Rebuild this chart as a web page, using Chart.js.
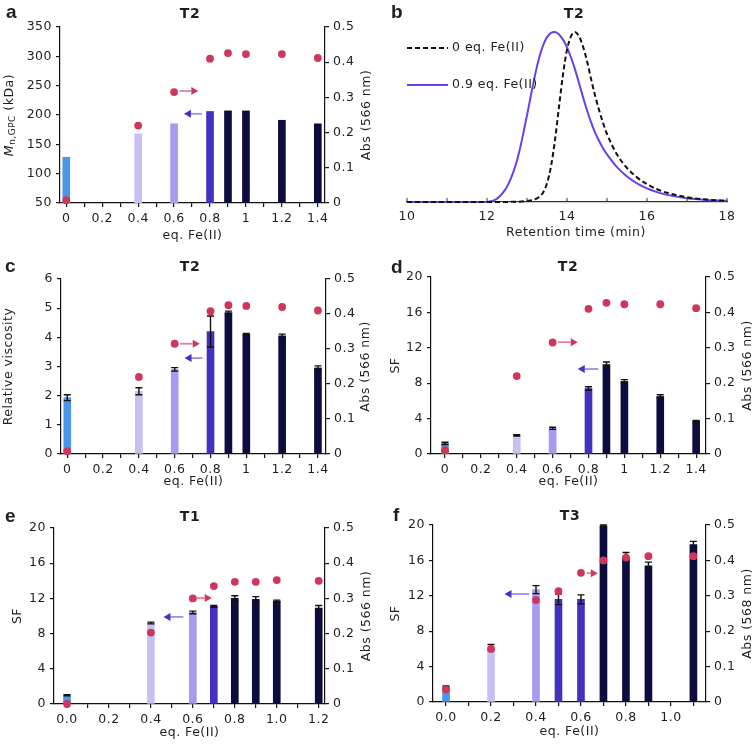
<!DOCTYPE html>
<html><head><meta charset="utf-8">
<script src="https://cdn.jsdelivr.net/npm/chart.js@4.4.1/dist/chart.umd.min.js"></script>
<style>
html,body{margin:0;padding:0;background:#fff;}
#wrap{position:relative;width:756px;height:746px;overflow:hidden;}
canvas{position:absolute;}
</style></head><body>
<div id="wrap">
<canvas id="ca" width="378" height="248" style="left:0;top:0"></canvas>
<canvas id="cb" width="378" height="248" style="left:378px;top:0"></canvas>
<canvas id="cc" width="378" height="249" style="left:0;top:248px"></canvas>
<canvas id="cd" width="378" height="249" style="left:378px;top:248px"></canvas>
<canvas id="ce" width="378" height="249" style="left:0;top:497px"></canvas>
<canvas id="cf" width="378" height="249" style="left:378px;top:497px"></canvas>
</div>
<script>
// ---------- data ----------
const eqT2 = [0, 0.4, 0.6, 0.8, 0.9, 1.0, 1.2, 1.4];
const mnGPC = [128, 168, 185, 206, 207, 207, 191, 185];
const absT2a = [0.008, 0.22, 0.315, 0.41, 0.426, 0.423, 0.423, 0.412];

const viscT2 = [1.93, 2.15, 2.9, 4.2, 4.85, 4.1, 4.05, 2.95];
const viscT2Err = [0.1, 0.12, 0.06, 0.53, 0.05, 0.03, 0.06, 0.07];
const absT2c = [0.008, 0.22, 0.315, 0.408, 0.425, 0.423, 0.42, 0.41];

const sfT2 = [1.2, 2.1, 2.9, 7.4, 10.1, 8.2, 6.5, 3.7];
const sfT2Err = [0.12, 0.08, 0.12, 0.2, 0.3, 0.2, 0.2, 0.08];
const absT2d = [0.01, 0.22, 0.315, 0.41, 0.427, 0.423, 0.423, 0.412];

const eqT1 = [0, 0.4, 0.6, 0.7, 0.8, 0.9, 1.0, 1.2];
const sfT1 = [1.0, 9.2, 10.4, 11.1, 12.0, 11.9, 11.7, 10.9];
const sfT1Err = [0.06, 0.1, 0.15, 0.1, 0.3, 0.3, 0.1, 0.3];
const absT1 = [0.0, 0.203, 0.30, 0.335, 0.347, 0.347, 0.352, 0.35];

const eqT3 = [0, 0.2, 0.4, 0.5, 0.6, 0.7, 0.8, 0.9, 1.1];
const sfT3 = [1.7, 6.2, 12.7, 11.6, 11.6, 19.9, 16.4, 15.4, 17.8];
const sfT3Err = [0.1, 0.3, 0.45, 0.6, 0.5, 0.1, 0.5, 0.4, 0.35];
const absT3 = [0.035, 0.15, 0.288, 0.313, 0.365, 0.40, 0.408, 0.412, 0.412];

// GPC traces (normalised signal)
const rt0  = [10, 12, 12.8, 13.0, 13.2, 13.3, 13.4, 13.5, 13.6, 13.7, 13.8, 13.9, 14.0, 14.1, 14.2, 14.3, 14.4, 14.5, 14.6, 14.7, 14.8, 14.9, 15.0, 15.25, 15.5, 15.75, 16.0, 16.25, 16.5, 17.0, 17.5, 18.0];
const sig0 = [0, 0, 0.002, 0.006, 0.016, 0.03, 0.055, 0.11, 0.21, 0.365, 0.56, 0.75, 0.895, 0.975, 1.0, 0.975, 0.915, 0.83, 0.725, 0.628, 0.542, 0.466, 0.4, 0.28, 0.2, 0.145, 0.105, 0.075, 0.054, 0.028, 0.014, 0.007];
const rt09  = [10, 12.0, 12.1, 12.2, 12.3, 12.4, 12.5, 12.6, 12.7, 12.8, 12.9, 13.0, 13.1, 13.2, 13.3, 13.4, 13.5, 13.6, 13.7, 13.8, 13.9, 14.0, 14.1, 14.2, 14.3, 14.4, 14.5, 14.6, 14.7, 14.8, 14.9, 15.0, 15.25, 15.5, 15.75, 16.0, 16.25, 16.5, 17.0, 17.5, 18.0];
const sig09 = [0, 0, 0.004, 0.013, 0.03, 0.055, 0.09, 0.14, 0.205, 0.29, 0.395, 0.51, 0.63, 0.745, 0.845, 0.92, 0.97, 0.995, 1.0, 0.985, 0.955, 0.91, 0.85, 0.78, 0.7, 0.617, 0.54, 0.47, 0.41, 0.36, 0.316, 0.28, 0.205, 0.15, 0.11, 0.08, 0.058, 0.042, 0.022, 0.012, 0.007];

// tick labels
const tickLabelsT2 = ['0', '0.2', '0.4', '0.6', '0.8', '1', '1.2', '1.4'];
const tickLabelsT1 = ['0.0', '0.2', '0.4', '0.6', '0.8', '1.0', '1.2'];
const tickLabelsT3 = ['0.0', '0.2', '0.4', '0.6', '0.8', '1.0'];
const absTickLabels = ['0', '0.1', '0.2', '0.3', '0.4', '0.5'];
const rtTickLabels = ['10', '12', '14', '16', '18'];

// ---------- style ----------
const FONT = '"DejaVu Sans", sans-serif';
const TXT = '#1e1e1e';
const COL = {blue:'#4a96ea', lightLav:'#c8c0f3', lav:'#a79af0', mid:'#4332c2', navy:'#0d0c3e',
  red:'#d0365c', redLine:'#e0829f', blueHead:'#4332c2', blueLine:'#9a90ee', purple:'#6a40e8'};

const specs = {};

function rotText(ctx, parts, x, y) {
  ctx.save();
  ctx.translate(x, y);
  ctx.rotate(-Math.PI / 2);
  ctx.textBaseline = 'middle';
  ctx.textAlign = 'left';
  let total = 0;
  parts.forEach(p => { ctx.font = p.font; p.w = ctx.measureText(p.t).width; total += p.w; });
  let cx = -total / 2;
  parts.forEach(p => { ctx.font = p.font; ctx.fillText(p.t, cx, p.dy || 0); cx += p.w; });
  ctx.restore();
}

function drawArrow(ctx, x1, x2, y, lineColor, headColor) {
  const dir = Math.sign(x2 - x1), hl = 7, hw = 4;
  ctx.strokeStyle = lineColor; ctx.lineWidth = 1.8;
  ctx.beginPath(); ctx.moveTo(x1, y); ctx.lineTo(x2 - dir * hl, y); ctx.stroke();
  ctx.fillStyle = headColor;
  ctx.beginPath(); ctx.moveTo(x2, y); ctx.lineTo(x2 - dir * hl, y - hw); ctx.lineTo(x2 - dir * hl, y + hw); ctx.closePath(); ctx.fill();
}

const decorPlugin = {
  id: 'decor',
  beforeDraw(chart) { chart.ctx.letterSpacing = '0.5px'; },
  afterDatasetDraw(chart, args) {
    const s = specs[chart.canvas.id];
    if (!s || !s.errors || args.index !== 0) return;
    const meta = chart.getDatasetMeta(0), ys = chart.scales.y, ctx = chart.ctx;
    ctx.save();
    ctx.strokeStyle = '#111'; ctx.lineWidth = 1.4;
    meta.data.forEach((bar, i) => {
      const v = s.values[i], e = s.errors[i];
      const yt = ys.getPixelForValue(v + e), yb = ys.getPixelForValue(v - e), x = bar.x;
      ctx.beginPath();
      ctx.moveTo(x, yt); ctx.lineTo(x, yb);
      ctx.moveTo(x - 3.5, yt); ctx.lineTo(x + 3.5, yt);
      ctx.moveTo(x - 3.5, yb); ctx.lineTo(x + 3.5, yb);
      ctx.stroke();
    });
    ctx.restore();
  },
  afterDraw(chart) {
    const s = specs[chart.canvas.id];
    if (!s) return;
    const ctx = chart.ctx, ca = chart.chartArea;
    ctx.save();
    ctx.fillStyle = TXT;
    ctx.textBaseline = 'alphabetic';
    ctx.font = 'bold 19px "Liberation Sans", Arial, sans-serif';
    ctx.textAlign = 'left';
    ctx.fillText(s.letter, s.letterX, s.letterY);
    ctx.font = 'bold 14px ' + FONT;
    ctx.textAlign = 'center';
    ctx.fillText(s.title, s.titleX, s.titleY);
    ctx.font = '12.5px ' + FONT;
    ctx.fillText(s.xTitle, s.xTitleX != null ? s.xTitleX : (ca.left + ca.right) / 2, s.xTitleY);
    const cy = (ca.top + ca.bottom) / 2;
    if (s.yTitle) rotText(ctx, s.yTitle, s.yTitleX, cy);
    if (s.y2Title) rotText(ctx, [{t: s.y2Title, font: '12.5px ' + FONT}], s.y2TitleX, cy);
    // arrows
    (s.arrows || []).forEach(a => {
      const y = chart.scales[a.axis].getPixelForValue(a.y);
      const x1 = chart.scales.x.getPixelForValue(a.from), x2 = chart.scales.x.getPixelForValue(a.to);
      drawArrow(ctx, x1, x2, y, a.line, a.head);
    });
    // inward ticks (panel b)
    if (s.innerTicks) {
      ctx.strokeStyle = '#333'; ctx.lineWidth = 1;
      chart.scales.x.ticks.forEach(t => {
        const x = chart.scales.x.getPixelForValue(t.value);
        ctx.beginPath(); ctx.moveTo(x, ca.bottom); ctx.lineTo(x, ca.bottom - 4); ctx.stroke();
      });
    }
    // legend (panel b)
    (s.legend || []).forEach(l => {
      ctx.strokeStyle = l.color; ctx.lineWidth = 2; ctx.setLineDash(l.dash || []);
      ctx.beginPath(); ctx.moveTo(l.x1, l.y); ctx.lineTo(l.x2, l.y); ctx.stroke();
      ctx.setLineDash([]);
      ctx.fillStyle = TXT; ctx.font = '12.5px ' + FONT; ctx.textAlign = 'left'; ctx.textBaseline = 'middle';
      ctx.fillText(l.text, l.x2 + 4, l.y);
    });
    ctx.restore();
  }
};
Chart.register(decorPlugin);

const tickFont = {family: FONT, size: 12.5};

function xTickValues(max) {
  const v = [];
  for (let k = 0; k * 0.1 <= max + 1e-9; k++) v.push(+(k * 0.1).toFixed(2));
  return v;
}

function barChart(id, o) {
  specs[id] = o.decor;
  const H = document.getElementById(id).height;
  return new Chart(id, {
    type: 'bar',
    data: {
      datasets: [
        {type: 'bar', data: o.xs.map((x, i) => ({x, y: o.ys[i]})), backgroundColor: o.colors,
         barThickness: 7, yAxisID: 'y', order: 2},
        {type: 'scatter', data: o.xs.map((x, i) => ({x, y: o.abs[i]})), yAxisID: 'y2',
         backgroundColor: COL.red, borderWidth: 0, pointRadius: 3.9, clip: false, order: 1}
      ]
    },
    options: {
      responsive: false, animation: false,
      layout: {padding: {top: o.T, left: 0, right: 0, bottom: 0}},
      plugins: {legend: {display: false}, tooltip: {enabled: false}},
      scales: {
        x: {
          type: 'linear', min: o.xMin, max: o.xMax, offset: false,
          afterBuildTicks: s => { s.ticks = xTickValues(o.xMax).map(v => ({value: v})); },
          afterFit: s => { s.height = H - o.B; },
          ticks: {autoSkip: false, maxRotation: 0, padding: 4, color: TXT, font: tickFont,
            callback: v => { const k = Math.round(v / 0.2); return (Math.abs(v - k * 0.2) < 1e-6 && k < o.xLabels.length) ? o.xLabels[k] : ''; }},
          grid: {drawOnChartArea: false, drawTicks: true, tickLength: 4, color: '#111', lineWidth: 1.2, offset: false},
          border: {display: true, color: '#111', width: 1.2}
        },
        y: {
          position: 'left', min: o.yMin, max: o.yMax,
          afterFit: s => { s.width = o.L; },
          ticks: {stepSize: o.yStep, padding: 4, color: TXT, font: tickFont},
          grid: {drawOnChartArea: false, drawTicks: true, tickLength: 4, color: '#111', lineWidth: 1.2},
          border: {display: true, color: '#111', width: 1.2}
        },
        y2: {
          position: 'right', min: 0, max: 0.5,
          afterBuildTicks: s => { const t = []; for (let k = 0; k <= 10; k++) t.push({value: +(k * 0.05).toFixed(2)}); s.ticks = t; },
          afterFit: s => { s.width = 378 - o.R; },
          ticks: {padding: 4, color: TXT, font: tickFont,
            callback: v => { const k = Math.round(v / 0.1); return Math.abs(v - k * 0.1) < 1e-6 ? absTickLabels[k] : ''; }},
          grid: {drawOnChartArea: false, drawTicks: true, tickLength: 4, color: '#111', lineWidth: 1.2},
          border: {display: true, color: '#111', width: 1.2}
        }
      }
    }
  });
}

const T2colors = [COL.blue, COL.lightLav, COL.lav, COL.mid, COL.navy, COL.navy, COL.navy, COL.navy];
const T1colors = [COL.blue, COL.lightLav, COL.lav, COL.mid, COL.navy, COL.navy, COL.navy, COL.navy];
const T3colors = [COL.blue, COL.lightLav, COL.lav, COL.mid, COL.mid, COL.navy, COL.navy, COL.navy, COL.navy];
const absTitle = 'Abs (566 nm)';

// ----- panel a -----
barChart('ca', {
  xs: eqT2, ys: mnGPC, abs: absT2a, colors: T2colors, xLabels: tickLabelsT2,
  xMin: -0.035, xMax: 1.44, yMin: 50, yMax: 350, yStep: 50, L: 60, R: 325, T: 27, B: 203,
  decor: {letter: 'a', letterX: 6, letterY: 18, title: 'T2', titleX: 190, titleY: 18,
    xTitle: 'eq. Fe(II)', xTitleY: 239,
    yTitle: [{t: 'M', font: 'italic 12.5px ' + FONT}, {t: 'n,GPC', font: '9px ' + FONT, dy: 3}, {t: ' (kDa)', font: '12.5px ' + FONT}], yTitleX: 10,
    y2Title: absTitle, y2TitleX: 367,
    arrows: [
      {axis: 'y2', y: 0.318, from: 0.63, to: 0.735, line: COL.redLine, head: COL.red},
      {axis: 'y', y: 202, from: 0.755, to: 0.655, line: COL.blueLine, head: COL.blueHead}
    ]}
});

// ----- panel b -----
specs['cb'] = {letter: 'b', letterX: 13, letterY: 18, title: 'T2', titleX: 196, titleY: 18,
  xTitle: 'Retention time (min)', xTitleX: 198, xTitleY: 236, innerTicks: true,
  legend: [
    {text: '0 eq. Fe(II)', color: '#111', dash: [5, 3], x1: 29, x2: 70, y: 48},
    {text: '0.9 eq. Fe(II)', color: COL.purple, x1: 29, x2: 70, y: 85}
  ]};
new Chart('cb', {
  type: 'line',
  data: {datasets: [
    {data: rt0.map((x, i) => ({x, y: sig0[i]})), borderColor: '#111', borderDash: [5, 3], borderWidth: 2,
     pointRadius: 0, cubicInterpolationMode: 'monotone', clip: false},
    {data: rt09.map((x, i) => ({x, y: sig09[i]})), borderColor: COL.purple, borderWidth: 2,
     pointRadius: 0, cubicInterpolationMode: 'monotone', clip: false}
  ]},
  options: {
    responsive: false, animation: false,
    layout: {padding: {top: 32, left: 29, right: 29, bottom: 0}},
    plugins: {legend: {display: false}, tooltip: {enabled: false}},
    scales: {
      x: {type: 'linear', min: 10, max: 18,
        afterBuildTicks: s => { const t = []; for (let v = 10; v <= 18; v++) t.push({value: v}); s.ticks = t; },
        afterFit: s => { s.height = 248 - 202; },
        ticks: {autoSkip: false, maxRotation: 0, padding: 7, color: TXT, font: tickFont,
          callback: v => (v % 2 === 0 ? rtTickLabels[(v - 10) / 2] : '')},
        grid: {drawOnChartArea: false, drawTicks: false},
        border: {display: true, color: '#333', width: 1.2}},
      y: {display: false, min: 0, max: 1}
    }
  }
});

// ----- panel c -----
barChart('cc', {
  xs: eqT2, ys: viscT2, abs: absT2c, colors: T2colors, xLabels: tickLabelsT2,
  xMin: -0.035, xMax: 1.445, yMin: 0, yMax: 6, yStep: 1, L: 61, R: 326, T: 31, B: 206,
  decor: {letter: 'c', letterX: 5, letterY: 24, title: 'T2', titleX: 190, titleY: 23,
    xTitle: 'eq. Fe(II)', xTitleY: 237, values: viscT2, errors: viscT2Err,
    yTitle: [{t: 'Relative viscosity', font: '12.5px ' + FONT}], yTitleX: 9,
    y2Title: absTitle, y2TitleX: 366,
    arrows: [
      {axis: 'y2', y: 0.315, from: 0.63, to: 0.74, line: COL.redLine, head: COL.red},
      {axis: 'y2', y: 0.274, from: 0.755, to: 0.655, line: COL.blueLine, head: COL.blueHead}
    ]}
});

// ----- panel d -----
barChart('cd', {
  xs: eqT2, ys: sfT2, abs: absT2d, colors: T2colors, xLabels: tickLabelsT2,
  xMin: -0.078, xMax: 1.455, yMin: 0, yMax: 20, yStep: 4, L: 53, R: 328, T: 29, B: 206,
  decor: {letter: 'd', letterX: 13, letterY: 25, title: 'T2', titleX: 190, titleY: 23,
    xTitle: 'eq. Fe(II)', xTitleY: 237, values: sfT2, errors: sfT2Err,
    yTitle: [{t: 'SF', font: '12.5px ' + FONT}], yTitleX: 18,
    y2Title: absTitle, y2TitleX: 370,
    arrows: [
      {axis: 'y2', y: 0.316, from: 0.63, to: 0.74, line: COL.redLine, head: COL.red},
      {axis: 'y', y: 9.6, from: 0.855, to: 0.74, line: COL.blueLine, head: COL.blueHead}
    ]}
});

// ----- panel e -----
barChart('ce', {
  xs: eqT1, ys: sfT1, abs: absT1, colors: T1colors, xLabels: tickLabelsT1,
  xMin: -0.062, xMax: 1.23, yMin: 0, yMax: 20, yStep: 4, L: 54, R: 325, T: 31, B: 207,
  decor: {letter: 'e', letterX: 5, letterY: 25, title: 'T1', titleX: 190, titleY: 24,
    xTitle: 'eq. Fe(II)', xTitleY: 239, values: sfT1, errors: sfT1Err,
    yTitle: [{t: 'SF', font: '12.5px ' + FONT}], yTitleX: 18,
    y2Title: absTitle, y2TitleX: 367,
    arrows: [
      {axis: 'y2', y: 0.301, from: 0.62, to: 0.69, line: COL.redLine, head: COL.red},
      {axis: 'y', y: 9.9, from: 0.555, to: 0.46, line: COL.blueLine, head: COL.blueHead}
    ]}
});

// ----- panel f -----
barChart('cf', {
  xs: eqT3, ys: sfT3, abs: absT3, colors: T3colors, xLabels: tickLabelsT3,
  xMin: -0.058, xMax: 1.156, yMin: 0, yMax: 20, yStep: 4, L: 55, R: 328, T: 28, B: 205,
  decor: {letter: 'f', letterX: 15, letterY: 24, title: 'T3', titleX: 192, titleY: 23,
    xTitle: 'eq. Fe(II)', xTitleY: 238, values: sfT3, errors: sfT3Err,
    yTitle: [{t: 'SF', font: '12.5px ' + FONT}], yTitleX: 18,
    y2Title: 'Abs (568 nm)', y2TitleX: 370,
    arrows: [
      {axis: 'y2', y: 0.364, from: 0.625, to: 0.675, line: COL.redLine, head: COL.red},
      {axis: 'y', y: 12.2, from: 0.37, to: 0.26, line: COL.blueLine, head: COL.blueHead}
    ]}
});
</script>
</body></html>
